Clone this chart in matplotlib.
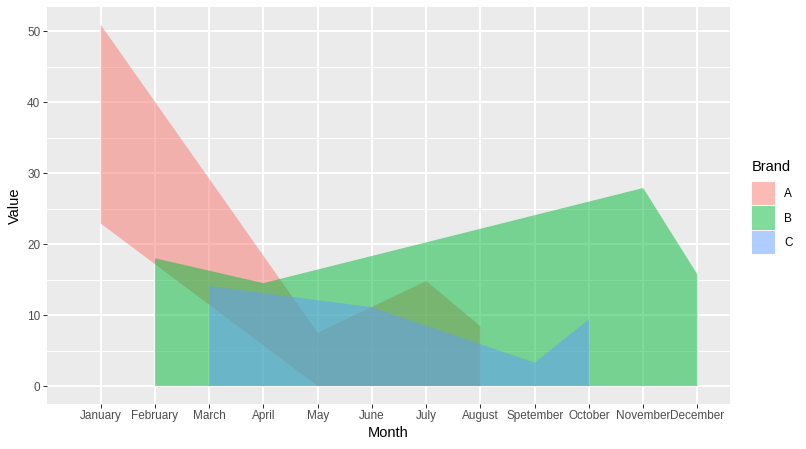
import matplotlib
matplotlib.use("Agg")
import matplotlib.pyplot as plt
from matplotlib.patches import Patch
from matplotlib.ticker import MultipleLocator

months = ['January', 'February', 'March', 'April', 'May', 'June', 'July',
          'August', 'Spetember', 'October', 'November', 'December']
brands = ['A', 'B', 'C']
colors = ['#F8766D', '#00BA38', '#619CFF']

# Brand A
a_months = ['January', 'May', 'July', 'August']
a_upper = [50.9, 7.5, 14.8, 8.4]
a_lower = [22.9, 0.0, 0.0, 0.0]
# Brand B
b_months = ['February', 'April', 'November', 'December']
b_upper = [18.0, 14.5, 27.9, 15.7]
b_lower = [0.0, 0.0, 0.0, 0.0]
# Brand C
c_months = ['March', 'June', 'Spetember', 'October']
c_upper = [14.1, 11.1, 3.3, 9.4]
c_lower = [0.0, 0.0, 0.0, 0.0]

series = [(a_months, a_upper, a_lower), (b_months, b_upper, b_lower),
          (c_months, c_upper, c_lower)]

plt.rcParams['font.family'] = ['Liberation Sans', 'DejaVu Sans']

fig = plt.figure(figsize=(8.06, 4.49), dpi=100)
ax = fig.add_axes([47/806, 1-403.7/449, (730-47)/806, (403.7-7)/449])
ax.set_facecolor('#EBEBEB')

for (mths, up, lo), col in zip(series, colors):
    xs = [months.index(m) for m in mths]
    ax.fill_between(xs, lo, up, facecolor=col, alpha=0.5, linewidth=0, zorder=3)

ax.set_xlim(-0.99, 11.6)
ax.set_ylim(-2.49, 53.4)
ax.set_xticks(range(len(months)))
ax.set_xticklabels(months)
ax.yaxis.set_major_locator(MultipleLocator(10))
ax.yaxis.set_minor_locator(MultipleLocator(5))
ax.grid(True, which='major', color='white', linewidth=1.37, zorder=1)
ax.grid(True, which='minor', axis='y', color='white', linewidth=0.68, zorder=1)
ax.set_axisbelow(True)
for s in ax.spines.values():
    s.set_visible(False)
ax.tick_params(axis='both', which='major', length=2.66, width=0.75,
               color='#333333', labelcolor='#4D4D4D', labelsize=8.45, pad=2.1)
ax.tick_params(axis='both', which='minor', length=0)
ax.set_xlabel('Month', fontsize=10.56, color='black', labelpad=2.5)
ax.set_ylabel('Value', fontsize=10.56, color='black', labelpad=4)

fig.text(752/806, 1-167/449, 'Brand', fontsize=10.56, color='black',
         ha='left', va='center')
handles = [Patch(facecolor=c, alpha=0.5, edgecolor='none', label=b)
           for b, c in zip(brands, colors)]
leg = fig.legend(handles=handles, loc='upper left',
                 bbox_to_anchor=(752/806, 1-182/449), frameon=False,
                 fontsize=8.45, borderpad=0,
                 handlelength=2.0, handleheight=2.7, labelspacing=0.08,
                 handletextpad=0.75, borderaxespad=0)

fig.savefig('out.png', dpi=100)
